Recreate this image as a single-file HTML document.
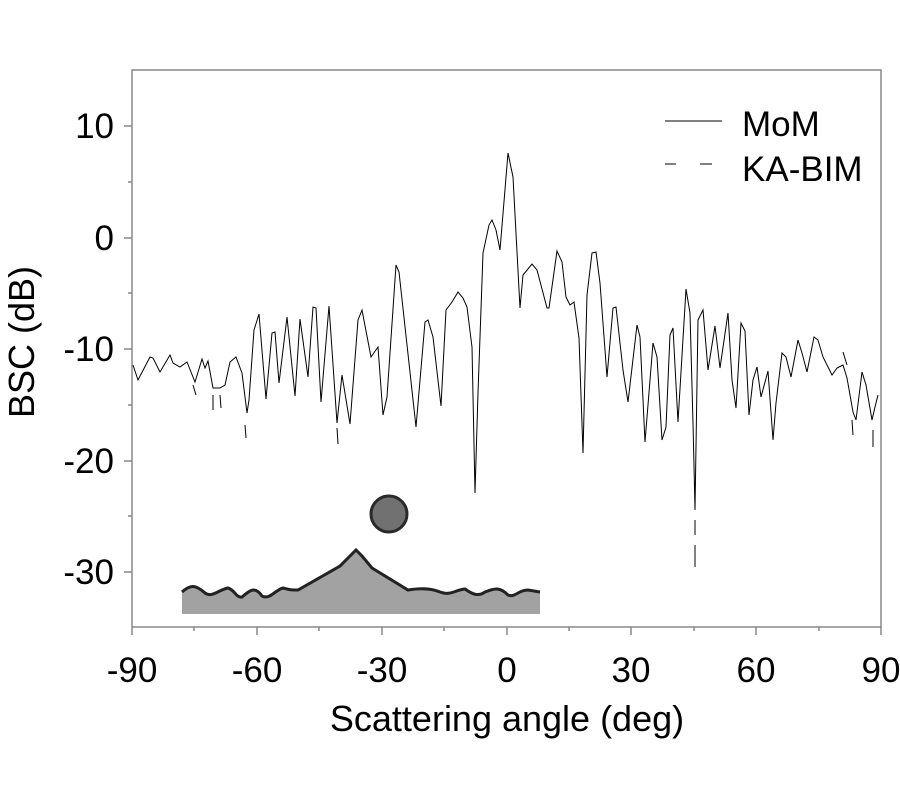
<!DOCTYPE html>
<html><head><meta charset="utf-8"><style>
body{margin:0;background:#fff;}
svg text{font-family:"Liberation Sans",sans-serif;fill:#000;}
</style></head><body>
<svg width="900" height="800" viewBox="0 0 900 800" xmlns="http://www.w3.org/2000/svg">
<rect x="132" y="70" width="749" height="557" fill="none" stroke="#888" stroke-width="1.5"/>
<g stroke="#888" stroke-width="1.5">
<line x1="124" y1="126" x2="132" y2="126"/><line x1="124" y1="238" x2="132" y2="238"/><line x1="124" y1="349" x2="132" y2="349"/><line x1="124" y1="461" x2="132" y2="461"/><line x1="124" y1="572" x2="132" y2="572"/>
<line x1="128" y1="182" x2="132" y2="182"/><line x1="128" y1="293" x2="132" y2="293"/><line x1="128" y1="405" x2="132" y2="405"/><line x1="128" y1="516" x2="132" y2="516"/>
<line x1="132" y1="627" x2="132" y2="635"/><line x1="257" y1="627" x2="257" y2="635"/><line x1="382" y1="627" x2="382" y2="635"/><line x1="507" y1="627" x2="507" y2="635"/><line x1="631" y1="627" x2="631" y2="635"/><line x1="756" y1="627" x2="756" y2="635"/><line x1="881" y1="627" x2="881" y2="635"/>
<line x1="194" y1="627" x2="194" y2="631"/><line x1="319" y1="627" x2="319" y2="631"/><line x1="444" y1="627" x2="444" y2="631"/><line x1="569" y1="627" x2="569" y2="631"/><line x1="694" y1="627" x2="694" y2="631"/><line x1="819" y1="627" x2="819" y2="631"/>
</g>
<g font-size="35" text-anchor="end">
<text x="114" y="138">10</text><text x="114" y="250">0</text><text x="114" y="361">-10</text><text x="114" y="473">-20</text><text x="114" y="584">-30</text>
</g>
<g font-size="35" text-anchor="middle">
<text x="132" y="682">-90</text><text x="257" y="682">-60</text><text x="382" y="682">-30</text><text x="507" y="682">0</text><text x="631" y="682">30</text><text x="756" y="682">60</text><text x="881" y="682">90</text>
<text x="507" y="731" font-size="36">Scattering angle (deg)</text>
<text transform="translate(34,342) rotate(-90)" font-size="36">BSC (dB)</text>
</g>
<text x="742" y="136" font-size="35">MoM</text>
<text x="742" y="181" font-size="35">KA-BIM</text>
<line x1="665" y1="121" x2="722" y2="121" stroke="#000" stroke-width="1"/>
<line x1="665" y1="164" x2="676" y2="164" stroke="#000" stroke-width="1"/>
<line x1="700" y1="164" x2="712" y2="164" stroke="#000" stroke-width="1"/>
<path d="M182,614 L182,592 C190,585 195,584 205,593 C212,598 218,590 228,588 C235,590 236,598 242,597 C250,590 255,586 262,596 C270,600 275,590 283,588 C290,590 292,590 298,590 L340,566 L356,550 L362,556 L372,568 L408,590 C420,588 430,588 440,592 C450,596 455,590 465,589 C472,594 478,597 485,592 C495,588 500,587 508,595 C515,598 518,590 528,590 L540,592 L540,614 Z" fill="#a2a2a2"/>
<path d="M182,592 C190,585 195,584 205,593 C212,598 218,590 228,588 C235,590 236,598 242,597 C250,590 255,586 262,596 C270,600 275,590 283,588 C290,590 292,590 298,590 L340,566 L356,550 L362,556 L372,568 L408,590 C420,588 430,588 440,592 C450,596 455,590 465,589 C472,594 478,597 485,592 C495,588 500,587 508,595 C515,598 518,590 528,590 L540,592" fill="none" stroke="#222" stroke-width="3"/>
<circle cx="389" cy="514" r="18" fill="#717171" stroke="#2a2a2a" stroke-width="3"/>
<polyline fill="none" stroke="#000" stroke-width="1" points="133,365 138,380 150,357 153,358 160,372 170,355 173,363 180,367 187,362 195,382 202,359 205,368 208,361 213,388 220,388 225,385 230,362 236,357 242,373 247,413 249,400 254,330 259,314 266,399 272,333 275,332 279,383 287,317 295,396 300,319 308,377 313,307 316,308 321,402 329,306 337,423 342,375 350,424 358,320 362,310 371,357 378,347 383,415 387,397 396,265 399,272 416,427 425,322 428,320 433,337 441,406 446,310 452,302 458,292 463,298 467,307 472,347 475,493 478,393 483,253 489,225 492,220 496,230 500,250 508,153 513,177 520,308 523,275 532,264 537,270 547,308 549,308 557,251 562,262 566,297 570,305 574,302 579,338 583,453 587,295 592,253 596,252 600,283 607,377 613,308 616,307 623,370 628,402 637,325 640,337 645,442 653,343 657,357 662,440 666,427 670,335 673,328 678,422 686,289 690,313 693,423 695,510 698,320 703,310 708,370 715,326 720,368 728,313 732,380 736,408 741,323 745,331 749,415 753,380 757,367 761,397 768,371 773,440 776,403 782,353 786,357 791,377 798,340 802,353 807,372 814,337 818,340 823,357 832,375 837,368 843,365 847,378 853,412 856,420 862,372 866,385 872,420 875,407 878,395"/>
<g stroke="#000" stroke-width="1">
<line x1="193" y1="385" x2="196" y2="395"/><line x1="213" y1="395" x2="213" y2="410"/><line x1="220" y1="395" x2="221" y2="408"/>
<line x1="245" y1="425" x2="246" y2="438"/><line x1="337" y1="428" x2="338" y2="444"/>
<line x1="695" y1="520" x2="695" y2="535"/><line x1="695" y1="545" x2="695" y2="567"/>
<line x1="852" y1="420" x2="853" y2="435"/><line x1="873" y1="430" x2="873" y2="447"/>
<line x1="843" y1="352" x2="847" y2="365"/>
</g>
</svg>
</body></html>
